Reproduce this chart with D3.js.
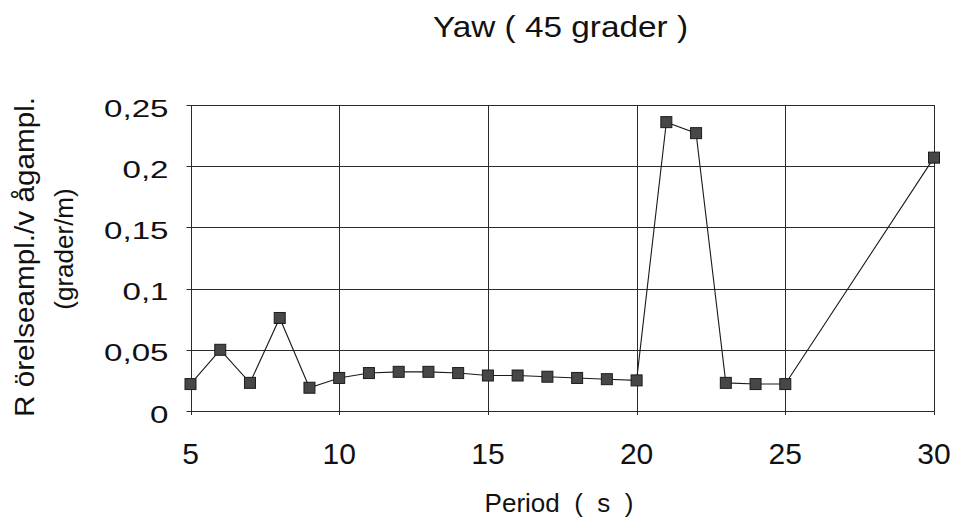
<!DOCTYPE html>
<html>
<head>
<meta charset="utf-8">
<script src="https://cdn.jsdelivr.net/npm/d3@7/dist/d3.min.js"></script>
<style>
  html, body { margin: 0; padding: 0; background: #fff; }
  svg { display: block; font-family: Arial, "Liberation Sans", sans-serif; }
</style>
</head>
<body>
<svg id="chart" width="958" height="522"></svg>
<script>
// Wave period (s) and yaw response amplitude (degrees per metre of wave amplitude)
const periods = [5, 6, 7, 8, 9, 10, 11, 12, 13, 14, 15, 16, 17, 18, 19, 20, 21, 22, 23, 24, 25, 30];
const yawResponse = [0.022, 0.050, 0.023, 0.076, 0.019, 0.027, 0.031, 0.032, 0.032, 0.031, 0.029,
                     0.029, 0.028, 0.027, 0.026, 0.025, 0.236, 0.227, 0.023, 0.022, 0.022, 0.207];
const xTicks = [5, 10, 15, 20, 25, 30];
const yTicks = [0, 0.05, 0.1, 0.15, 0.2, 0.25];
const yTickLabels = ["0", "0,05", "0,1", "0,15", "0,2", "0,25"];

const chartTitle = "Yaw ( 45 grader )";
const xTitle = "Period  (  s  )";
const yTitleLines = ["R örelseampl./v ågampl.", "(grader/m)"];

const svg = d3.select("#chart");
const plot = { left: 190.5, right: 934, top: 105, bottom: 411 };

const x = d3.scaleLinear().domain([5, 30]).range([plot.left, plot.right]);
const y = d3.scaleLinear().domain([0, 0.25]).range([plot.bottom, plot.top]);

const gridColor = "#2a2a2a";

// horizontal gridlines with short ticks sticking out to the left
svg.append("g").attr("class", "h-grid")
  .selectAll("line")
  .data(yTicks)
  .join("line")
  .attr("x1", plot.left - 4)
  .attr("x2", plot.right)
  .attr("y1", d => Math.round(y(d)) + 0.5)
  .attr("y2", d => Math.round(y(d)) + 0.5)
  .attr("stroke", gridColor)
  .attr("stroke-width", 1);

// vertical gridlines with short ticks below the axis
svg.append("g").attr("class", "v-grid")
  .selectAll("line")
  .data(xTicks)
  .join("line")
  .attr("x1", d => Math.round(x(d)) + 0.5)
  .attr("x2", d => Math.round(x(d)) + 0.5)
  .attr("y1", plot.top)
  .attr("y2", plot.bottom + 4)
  .attr("stroke", gridColor)
  .attr("stroke-width", 1);

// y tick labels (wide lettering)
svg.append("g").attr("class", "y-labels")
  .selectAll("text")
  .data(yTicks)
  .join("text")
  .attr("transform", d => `translate(168.5,${y(d) + 11.5}) scale(1.38,1)`)
  .attr("text-anchor", "end")
  .attr("font-size", 24)
  .attr("fill", "#111")
  .text((d, i) => yTickLabels[i]);

// x tick labels
svg.append("g").attr("class", "x-labels")
  .selectAll("text")
  .data(xTicks)
  .join("text")
  .attr("x", d => x(d))
  .attr("y", 464)
  .attr("text-anchor", "middle")
  .attr("font-size", 30)
  .attr("fill", "#111")
  .text(d => d);

// response curve
const line = d3.line()
  .x((d, i) => x(periods[i]))
  .y(d => y(d));

svg.append("path")
  .datum(yawResponse)
  .attr("d", line)
  .attr("fill", "none")
  .attr("stroke", "#1a1a1a")
  .attr("stroke-width", 1.1);

// square markers
const m = 11;
svg.append("g").attr("class", "markers")
  .selectAll("rect")
  .data(yawResponse)
  .join("rect")
  .attr("x", (d, i) => x(periods[i]) - m / 2)
  .attr("y", d => y(d) - m / 2)
  .attr("width", m)
  .attr("height", m)
  .attr("fill", "#474747")
  .attr("stroke", "#1c1c1c")
  .attr("stroke-width", 1);

// chart title
svg.append("text")
  .attr("x", 560.5)
  .attr("y", 37)
  .attr("text-anchor", "middle")
  .attr("font-size", 29)
  .attr("textLength", 255)
  .attr("lengthAdjust", "spacingAndGlyphs")
  .attr("fill", "#111")
  .text(chartTitle);

// x axis title
svg.append("text")
  .attr("x", 559)
  .attr("y", 511.5)
  .attr("text-anchor", "middle")
  .attr("font-size", 26)
  .attr("fill", "#111")
  .style("white-space", "pre")
  .text(xTitle);

// y axis title, two rotated lines
const yTitle = svg.append("g").attr("class", "y-title");
yTitle.append("text")
  .attr("transform", "translate(34,257) rotate(-90)")
  .attr("text-anchor", "middle")
  .attr("font-size", 27)
  .attr("textLength", 320)
  .attr("lengthAdjust", "spacingAndGlyphs")
  .attr("fill", "#111")
  .text(yTitleLines[0]);
yTitle.append("text")
  .attr("transform", "translate(73,249) rotate(-90)")
  .attr("text-anchor", "middle")
  .attr("font-size", 26)
  .attr("fill", "#111")
  .text(yTitleLines[1]);
</script>
</body>
</html>
